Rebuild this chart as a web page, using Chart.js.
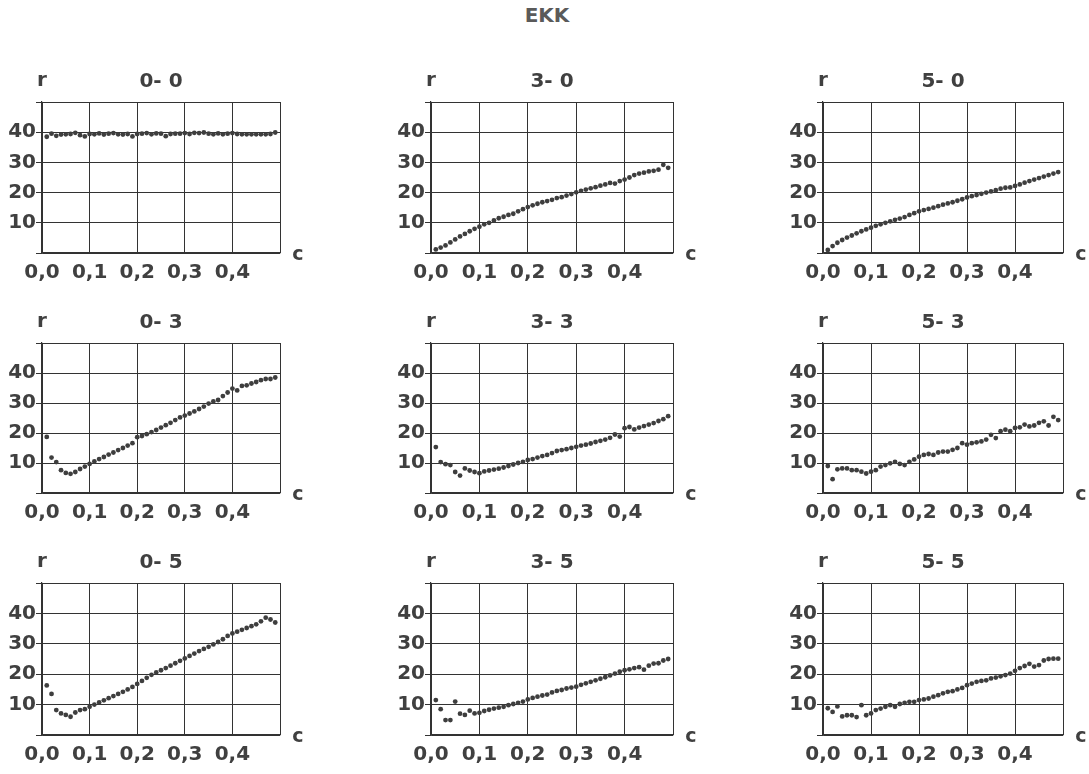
<!DOCTYPE html>
<html>
<head>
<meta charset="utf-8">
<script src="https://cdn.jsdelivr.net/npm/chart.js@4"></script>
<style>
  html, body { margin: 0; padding: 0; background: #fff; }
  body { width: 1089px; height: 774px; position: relative; overflow: hidden; }
  #mainTitle {
    position: absolute; left: 0; width: 1094px; top: 3px;
    text-align: center; font: bold 20px "DejaVu Sans", sans-serif; color: #5a5a5a;
  }
  .panel { position: absolute; }
</style>
</head>
<body>
<div id="mainTitle">EKK</div>

<script>
// c values (x) shared by all panels
const cValues = [0.01,0.02,0.03,0.04,0.05,0.06,0.07,0.08,0.09,0.10,
  0.11,0.12,0.13,0.14,0.15,0.16,0.17,0.18,0.19,0.20,
  0.21,0.22,0.23,0.24,0.25,0.26,0.27,0.28,0.29,0.30,
  0.31,0.32,0.33,0.34,0.35,0.36,0.37,0.38,0.39,0.40,
  0.41,0.42,0.43,0.44,0.45,0.46,0.47,0.48,0.49]

const panelNames = ["0- 0", "3- 0", "5- 0", "0- 3", "3- 3", "5- 3", "0- 5", "3- 5", "5- 5"]
const xTicks = [0, 0.1, 0.2, 0.3, 0.4]
const yTicks = [10, 20, 30, 40]

// r values
const r00 = [38.5,39.5,38.8,39.2,39.3,39.4,39.8,39.0,38.6,39.4,
  39.3,39.6,39.2,39.5,39.7,39.3,39.2,39.4,38.6,39.4,
  39.5,39.7,39.3,39.6,39.5,38.7,39.4,39.5,39.5,39.7,
  39.4,39.8,39.7,39.9,39.5,39.3,39.6,39.3,39.5,39.7,
  39.4,39.3,39.3,39.3,39.3,39.3,39.3,39.4,39.9]
const r30 = [1.2,1.8,2.5,3.5,4.5,5.5,6.3,7.2,8.0,8.7,
  9.5,10.0,10.8,11.5,12.0,12.6,13.0,13.8,14.5,15.2,
  15.8,16.3,16.8,17.2,17.6,18.2,18.5,19.0,19.5,20.1,
  20.6,21.0,21.4,21.8,22.3,22.7,23.2,23.0,23.8,24.3,
  25.0,25.8,26.3,26.6,27.0,27.2,27.6,29.2,28.2]
const r50 = [1.0,2.3,3.4,4.3,5.1,5.8,6.5,7.2,7.8,8.4,
  9.0,9.5,10.0,10.5,11.0,11.4,11.9,12.6,13.2,13.8,
  14.2,14.6,15.0,15.5,16.0,16.4,16.8,17.3,17.8,18.4,
  18.8,19.2,19.6,20.0,20.4,20.8,21.3,21.6,21.7,22.2,
  22.7,23.3,23.8,24.3,24.8,25.3,25.8,26.3,26.8]
const r03 = [18.7,11.8,10.3,7.6,6.7,6.4,7.0,8.0,8.8,9.7,
  10.5,11.3,12.0,12.8,13.5,14.3,15.0,15.8,16.6,18.6,
  19.0,19.6,20.3,21.0,21.8,22.6,23.4,24.3,25.2,25.8,
  26.5,27.2,28.0,28.8,29.8,30.5,31.0,32.3,33.5,34.8,
  34.2,35.7,35.9,36.5,37.0,37.6,38.0,38.0,38.5]
const r33 = [15.3,10.3,9.6,9.3,7.0,5.8,8.2,7.5,7.0,6.6,
  7.2,7.5,7.8,8.1,8.5,9.0,9.5,10.0,10.4,11.0,
  11.3,11.8,12.3,12.7,13.3,14.0,14.3,14.6,15.0,15.4,
  15.8,16.1,16.5,17.0,17.4,17.8,18.4,19.5,18.8,21.6,
  22.0,21.2,21.8,22.3,22.8,23.3,24.0,24.6,25.6]
const r53 = [9.0,4.6,7.9,8.2,8.2,7.6,7.6,7.1,6.5,7.1,
  7.6,8.8,9.3,9.9,10.4,9.7,9.3,10.4,11.2,12.1,
  12.7,13.0,12.7,13.5,13.8,13.8,14.4,15.0,16.6,16.1,
  16.6,16.9,17.2,17.8,19.4,18.3,20.6,21.1,20.6,21.7,
  21.9,22.8,22.2,22.5,23.4,23.9,22.5,25.4,24.3]
const r05 = [16.3,13.5,8.2,7.1,6.6,6.0,7.4,8.2,8.5,9.3,
  10.0,10.7,11.4,12.1,12.8,13.5,14.2,15.0,15.8,16.8,
  17.8,18.8,19.8,20.6,21.3,22.0,22.8,23.6,24.4,25.2,
  26.0,26.8,27.6,28.3,29.0,29.8,30.6,31.5,32.6,33.4,
  34.0,34.6,35.2,35.8,36.4,37.4,38.6,38.0,37.0]
const r35 = [11.5,8.5,4.9,4.9,11.0,7.0,6.6,8.0,7.1,7.3,
  7.9,8.3,8.7,9.0,9.3,9.8,10.2,10.6,11.0,11.7,
  12.2,12.6,13.0,13.3,14.0,14.5,14.8,15.3,15.6,15.9,
  16.5,17.0,17.5,18.0,18.5,19.0,19.6,20.2,20.8,21.3,
  21.6,22.0,22.3,21.5,22.8,23.5,23.6,24.5,25.0]
const r55 = [8.8,7.6,9.4,6.1,6.5,6.5,5.9,9.8,6.5,7.1,
  8.2,8.7,9.3,9.8,9.3,10.2,10.6,10.9,10.9,11.5,
  11.7,12.0,12.6,13.1,13.7,14.2,14.4,15.0,15.5,16.4,
  16.9,17.5,17.8,18.0,18.6,18.9,19.3,19.7,20.2,21.1,
  22.0,22.7,23.4,22.5,23.0,24.5,25.0,25.1,25.1]

const panelSeries = [r00, r30, r50, r03, r33, r53, r05, r35, r55]

// plot area boxes on the page (left, top, right, bottom)
const colEdges = [[42, 280], [431, 673], [823, 1063]]
const rowEdges = [[102, 253], [343, 493], [583, 735]]

const ink = "#404040"
const PAD_L = 4, Y_W = 40, PAD_T = 45, PAD_R = 40, X_H = 35

// draws the "r", "c" letters and the panel name around the plot area
const panelLabels = {
  id: "panelLabels",
  afterDraw(chart, args, opts) {
    const { ctx, chartArea } = chart
    ctx.save()
    ctx.fillStyle = ink
    ctx.textAlign = "center"
    ctx.textBaseline = "middle"
    ctx.font = "bold 20px 'DejaVu Sans'"
    ctx.fillText(opts.name, (chartArea.left + chartArea.right) / 2, chartArea.top - 20)
    ctx.fillText("r", chartArea.left, chartArea.top - 21)
    ctx.font = "bold 19px 'DejaVu Sans'"
    ctx.fillText("c", chartArea.right + 18, chartArea.bottom + 2)
    ctx.restore()
  }
}

function makePanel(i) {
  const [l, r] = colEdges[i % 3]
  const [t, b] = rowEdges[Math.floor(i / 3)]
  const div = document.createElement("div")
  div.className = "panel"
  div.style.left = (l - PAD_L - Y_W) + "px"
  div.style.top = (t - PAD_T) + "px"
  div.style.width = (r - l + PAD_L + Y_W + PAD_R) + "px"
  div.style.height = (b - t + PAD_T + X_H) + "px"
  const canvas = document.createElement("canvas")
  div.appendChild(canvas)
  document.body.appendChild(div)

  const series = panelSeries[i]
  new Chart(canvas, {
    type: "scatter",
    data: {
      datasets: [{
        data: cValues.map((c, k) => ({ x: c, y: series[k] })),
        backgroundColor: "#3e3e3e",
        borderWidth: 0,
        pointRadius: 2.4,
        pointHoverRadius: 2.4
      }]
    },
    options: {
      responsive: true,
      maintainAspectRatio: false,
      animation: false,
      events: [],
      layout: { padding: { left: PAD_L, top: PAD_T, right: PAD_R, bottom: 0 } },
      plugins: {
        legend: { display: false },
        tooltip: { enabled: false },
        panelLabels: { name: panelNames[i] }
      },
      scales: {
        x: {
          type: "linear",
          min: 0, max: 0.5,
          afterFit: s => { s.height = X_H },
          afterBuildTicks: s => { s.ticks = [0, 0.1, 0.2, 0.3, 0.4, 0.5].map(v => ({ value: v })) },
          grid: { color: "#333", lineWidth: 1, drawTicks: false },
          border: { color: "#333", width: 1.2 },
          ticks: {
            padding: 8,
            color: ink,
            font: { family: "DejaVu Sans", size: 20, weight: "bold" },
            maxRotation: 0,
            callback: v => xTicks.some(t => Math.abs(t - v) < 1e-9) ? v.toFixed(1).replace(".", ",") : ""
          }
        },
        y: {
          min: 0, max: 50,
          afterFit: s => { s.width = Y_W },
          afterBuildTicks: s => { s.ticks = [0, 10, 20, 30, 40, 50].map(v => ({ value: v })) },
          grid: { color: "#333", lineWidth: 1, tickLength: 6 },
          border: { color: "#333", width: 1.2 },
          ticks: {
            padding: 0,
            color: ink,
            font: { family: "DejaVu Sans", size: 20, weight: "bold" },
            callback: v => yTicks.includes(v) ? String(v) : ""
          }
        }
      }
    },
    plugins: [panelLabels]
  })
}

for (let i = 0; i < 9; i++) makePanel(i)
</script>
</body>
</html>
